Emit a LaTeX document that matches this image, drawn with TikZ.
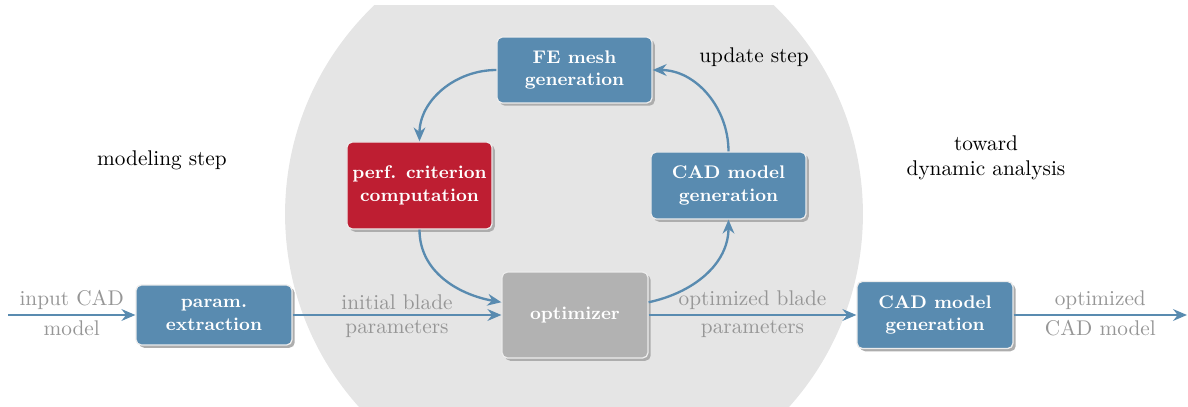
\documentclass[tikz,border=0pt]{standalone}
\usetikzlibrary{arrows.meta,shadows}
\definecolor{bblue}{RGB}{89,139,176}
\definecolor{bred}{RGB}{190,30,50}
\definecolor{bgray}{RGB}{178,178,178}
\definecolor{bgcirc}{RGB}{229,229,229}
\definecolor{lbl}{RGB}{150,150,150}
\begin{document}
\begin{tikzpicture}[x=0.47pt,y=0.47pt,
  box/.style={rectangle, rounded corners=2.5pt, draw=white!85!gray, line width=0.6pt,
    text=white, font=\fontsize{8.6}{10.5}\selectfont\bfseries, align=center, inner sep=0pt,
    drop shadow={shadow xshift=1.3pt, shadow yshift=-1.3pt, fill=black!32, opacity=1}},
  conn/.style={draw=bblue, line width=1.1pt, -{Stealth[length=6.5pt,width=5.5pt]}},
  glabel/.style={text=lbl, font=\normalsize, inner sep=2pt}]
\useasboundingbox (0,0) rectangle (1188,-406);
\begin{scope}
  \clip (0,-5) rectangle (1188,-406);
  \fill[bgcirc] (574,-214) circle[radius=135.8pt];
\end{scope}
% nodes
\node[box, fill=bblue, minimum width=73.3pt, minimum height=28.2pt] (pe) at (214,-315) {param.\\extraction};
\node[box, fill=bgray, minimum width=68.6pt, minimum height=40.4pt] (opt) at (575,-315) {optimizer};
\node[box, fill=bblue, minimum width=72.9pt, minimum height=31pt] (fe) at (574.5,-70) {FE mesh\\generation};
\node[box, fill=bred, minimum width=68.2pt, minimum height=40.9pt] (perf) at (419.5,-185.5) {perf. criterion\\computation};
\node[box, fill=bblue, minimum width=72.9pt, minimum height=31.5pt] (cadi) at (728.5,-185.5) {CAD model\\generation};
\node[box, fill=bblue, minimum width=73.3pt, minimum height=31.5pt] (cado) at (935,-315) {CAD model\\generation};
\coordinate (in) at (8,-315);
\coordinate (out) at (1187,-315);
% texts
\node (upd) at (754,-57) {update step};
\node (mod) at (162,-160) {modeling step};
\node[align=center] (tow) at (986,-158) {toward\\dynamic analysis};
% connectors
\draw[conn] (in) -- node[glabel, above]{input CAD} node[glabel, below]{model} (pe.west);
\draw[conn] (pe.east) -- node[glabel, above]{initial blade} node[glabel, below]{parameters} (opt.west);
\draw[conn] (opt.east) -- node[glabel, above]{optimized blade} node[glabel, below]{parameters} (cado.west);
\draw[conn] (cado.east) -- node[glabel, above]{optimized} node[glabel, below]{CAD model} (out);
\draw[conn] (fe.west) to[out=180,in=90] (perf.north);
\draw[conn] (perf.south) to[out=-90,in=170] ([yshift=6pt]opt.west);
\draw[conn] ([yshift=6pt]opt.east) to[out=12,in=-90] (cadi.south);
\draw[conn] (cadi.north) to[out=90,in=0] (fe.east);
\end{tikzpicture}
\end{document}
